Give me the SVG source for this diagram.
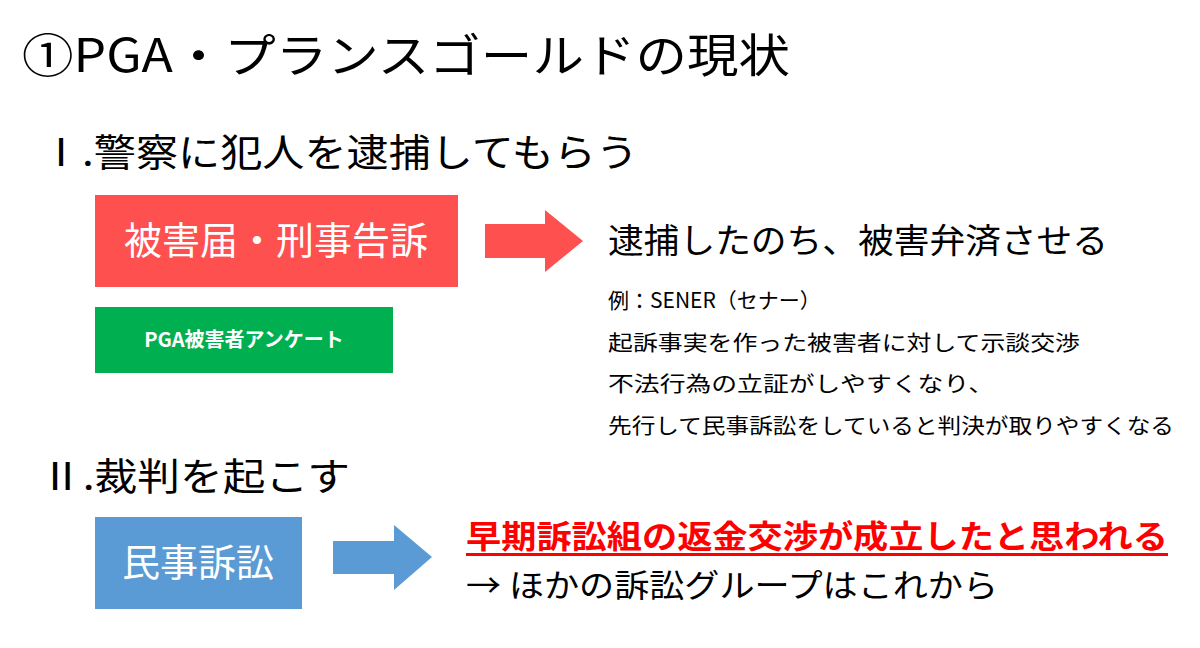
<svg xmlns="http://www.w3.org/2000/svg" width="1200" height="648" viewBox="0 0 1200 648">
<style>
text{font-family:"Noto Sans CJK JP","Noto Sans",sans-serif;fill:#000}
.w{fill:#fff}
.h{font-size:38px}
.s{font-size:21px}
</style>
<rect width="1200" height="648" fill="#fff"/>
<text x="22" y="72" font-size="46" textLength="768" lengthAdjust="spacingAndGlyphs">①PGA・プランスゴールドの現状</text>
<text class="h" x="40" y="166" textLength="598" lengthAdjust="spacingAndGlyphs">Ⅰ.警察に犯人を逮捕してもらう</text>
<g id="n1"><rect x="95" y="195" width="363" height="92" fill="#FF5050"/><text class="w h" x="276" y="254" text-anchor="middle">被害届・刑事告訴</text></g>
<g id="n2"><rect x="95" y="307" width="298" height="66" fill="#00B050"/><text class="w" x="244" y="347" font-size="20" font-weight="bold" text-anchor="middle">PGA被害者アンケート</text></g>
<g id="n3"><rect x="95" y="517" width="207" height="92" fill="#5B9BD5"/><text class="w h" x="198" y="576" text-anchor="middle">民事訴訟</text></g>
<g id="connectors">
<polygon points="485,224 545,224 545,210 583,241 545,272 545,258 485,258" fill="#FF5050"/>
<polygon points="333,541 394,541 394,525 432,557 394,590 394,574 333,574" fill="#5B9BD5"/>
</g>
<text x="608" y="253" font-size="34" textLength="500" lengthAdjust="spacingAndGlyphs">逮捕したのち、被害弁済させる</text>
<text class="s" x="608" y="308">例：SENER（セナー）</text>
<text class="s" x="608" y="350" textLength="472" lengthAdjust="spacingAndGlyphs">起訴事実を作った被害者に対して示談交渉</text>
<text class="s" x="608" y="391" textLength="386" lengthAdjust="spacingAndGlyphs">不法行為の立証がしやすくなり、</text>
<text class="s" x="608" y="433" textLength="566" lengthAdjust="spacingAndGlyphs">先行して民事訴訟をしていると判決が取りやすくなる</text>
<text class="h" x="40" y="490" textLength="310" lengthAdjust="spacingAndGlyphs">Ⅱ.裁判を起こす</text>
<text x="466" y="548" font-size="32" font-weight="bold" style="fill:#FF0000" textLength="702" lengthAdjust="spacingAndGlyphs">早期訴訟組の返金交渉が成立したと思われる</text>
<rect x="466" y="553" width="702" height="3" fill="#FF0000"/>
<text x="466" y="597" font-size="32" textLength="532" lengthAdjust="spacingAndGlyphs">→ ほかの訴訟グループはこれから</text>
</svg>
